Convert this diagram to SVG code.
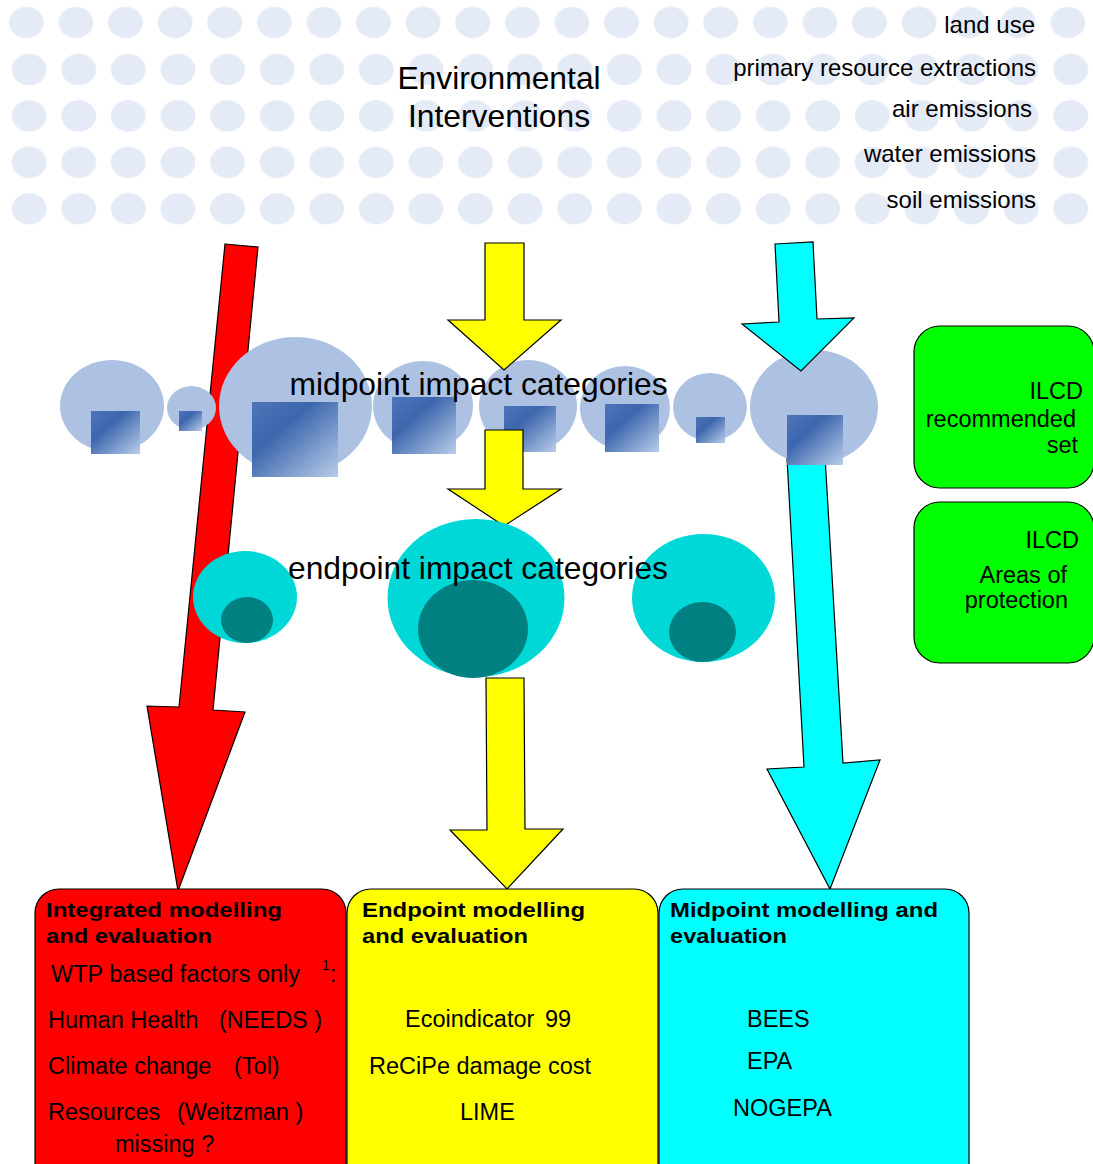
<svg xmlns="http://www.w3.org/2000/svg" width="1093" height="1164" viewBox="0 0 1093 1164">
<defs>
<linearGradient id="sq" x1="0" y1="0" x2="1" y2="1">
<stop offset="0" stop-color="#5075b9"/>
<stop offset="0.35" stop-color="#3c66ad"/>
<stop offset="1" stop-color="#bacdea"/>
</linearGradient>
<pattern id="dots1" x="8.8" y="6.5" width="49.6" height="400" patternUnits="userSpaceOnUse">
<ellipse cx="17.5" cy="16" rx="17.5" ry="15.7" fill="#e5ebf6"/>
</pattern>
<pattern id="dots2" x="11.6" y="53.5" width="49.6" height="46.4" patternUnits="userSpaceOnUse">
<ellipse cx="17.5" cy="16" rx="17.5" ry="15.7" fill="#e5ebf6"/>
</pattern>
</defs>
<style>
text{font-family:"Liberation Sans",Arial,Helvetica,sans-serif;fill:#000}
.big{font-size:31.8px;text-anchor:middle}
.lbl{font-size:24px;text-anchor:end}
.reg{font-size:23.5px}
.end{font-size:23.5px;text-anchor:end}
.ttl{font-size:21px;font-weight:bold}
.arr{stroke:#000;stroke-width:1.2;stroke-linejoin:miter}
.mid{fill:#adc2e2}
.sq{fill:url(#sq)}
.eo{fill:#00d8d8}
.ei{fill:#008080}
.box{stroke:#000;stroke-width:1.2}
</style>
<rect width="1093" height="1164" fill="#fff"/>
<g id="background">
<rect x="0" y="0" width="1093" height="40" fill="url(#dots1)"/>
<rect x="0" y="50" width="1093" height="180" fill="url(#dots2)"/>
</g>
<g id="interventions">
<text class="big" x="499" y="89">Environmental</text>
<text class="big" x="499" y="127">Interventions</text>
<text class="lbl" x="1035" y="33">land use</text>
<text class="lbl" x="1036" y="76">primary resource extractions</text>
<text class="lbl" x="1032" y="117">air emissions</text>
<text class="lbl" x="1036" y="162">water emissions</text>
<text class="lbl" x="1036" y="208">soil emissions</text>
</g>
<g id="connectors-back" class="connectors">
<polygon class="arr" fill="#ff0000" points="225,244 258,247 213,710 245,712 178,891 147,706 179,707"/>
<polygon class="arr" fill="#00ffff" points="786,440 824,439 843,763 880,760 830,889 767,769 804,767"/>
</g>
<g id="midpoint-categories">
<ellipse class="mid" cx="112" cy="406" rx="52" ry="46"/>
<rect class="sq" x="91" y="411" width="49" height="43"/>
<ellipse class="mid" cx="191.5" cy="408" rx="24.5" ry="22"/>
<rect class="sq" x="179" y="411" width="23" height="20"/>
<ellipse class="mid" cx="295.5" cy="406" rx="76.5" ry="69"/>
<rect class="sq" x="252" y="402" width="86" height="75"/>
<ellipse class="mid" cx="423" cy="406" rx="50" ry="45"/>
<rect class="sq" x="392" y="397" width="64" height="57"/>
<ellipse class="mid" cx="528" cy="406" rx="49" ry="46"/>
<rect class="sq" x="504" y="406" width="52" height="46"/>
<ellipse class="mid" cx="625" cy="408" rx="45" ry="42"/>
<rect class="sq" x="605" y="404" width="54" height="48"/>
<ellipse class="mid" cx="710" cy="407" rx="37" ry="34"/>
<rect class="sq" x="696" y="417" width="29" height="26"/>
<ellipse class="mid" cx="814" cy="407" rx="64" ry="57"/>
<rect class="sq" x="787" y="415" width="56" height="50"/>
</g>
<g id="connectors-front" class="connectors">
<polygon class="arr" fill="#ffff00" points="485,243 524,243 524,320 561,320 504,370 448,320 485,320"/>
<polygon class="arr" fill="#00ffff" points="775,244 813,242 817,319 854,318 801,371 742,324 779,322"/>
<polygon class="arr" fill="#ffff00" points="485,430 523,430 523,489 561,489 504,526 448,489 485,489"/>
</g>
<g id="endpoint-categories">
<ellipse class="eo" cx="245" cy="597" rx="52" ry="46"/>
<ellipse class="ei" cx="247" cy="620" rx="26" ry="23"/>
<ellipse class="eo" cx="476" cy="598" rx="88.5" ry="79"/>
<ellipse class="ei" cx="473" cy="629" rx="55" ry="49"/>
<ellipse class="eo" cx="703.5" cy="598" rx="71.5" ry="64"/>
<ellipse class="ei" cx="702.5" cy="632" rx="33.5" ry="30"/>
</g>
<g id="connectors-lower" class="connectors">
<polygon class="arr" fill="#ffff00" points="486,678 524,678 525,829 563,829 507,889 450,830 487,830"/>
</g>
<g id="category-labels">
<text class="big" x="478.5" y="395">midpoint impact categories</text>
<text class="big" x="478" y="579">endpoint impact categories</text>
</g>
<g id="ilcd-recommended">
<rect class="box" x="914" y="326" width="180" height="162" rx="26" fill="#00ff00"/>
<text class="end" x="1083" y="399">ILCD</text>
<text class="end" x="1076" y="427">recommended</text>
<text class="end" x="1078" y="453">set</text>
</g>
<g id="ilcd-areas">
<rect class="box" x="914" y="502" width="180" height="161" rx="26" fill="#00ff00"/>
<text class="end" x="1079" y="548">ILCD</text>
<text class="end" x="1067" y="583">Areas of</text>
<text class="end" x="1068" y="608">protection</text>
</g>
<g id="integrated-modelling">
<rect class="box" x="35" y="889" width="311" height="300" rx="24" fill="#ff0000"/>
<text class="ttl" x="46" y="917" textLength="236" lengthAdjust="spacingAndGlyphs">Integrated modelling</text>
<text class="ttl" x="46" y="943" textLength="166" lengthAdjust="spacingAndGlyphs">and evaluation</text>
<text class="reg" x="51" y="982">WTP based factors only</text>
<text x="322" y="970" style="font-size:14px">1</text>
<text class="reg" x="330" y="982">:</text>
<text class="reg" x="48" y="1028">Human Health</text>
<text class="reg" x="219" y="1028">(NEEDS )</text>
<text class="reg" x="48" y="1074">Climate change</text>
<text class="reg" x="234" y="1074">(Tol)</text>
<text class="reg" x="48" y="1120">Resources</text>
<text class="reg" x="177" y="1120">(Weitzman )</text>
<text class="reg" x="115" y="1152">missing ?</text>
</g>
<g id="endpoint-modelling">
<rect class="box" x="347" y="889" width="311" height="300" rx="24" fill="#ffff00"/>
<text class="ttl" x="362" y="917" textLength="223" lengthAdjust="spacingAndGlyphs">Endpoint modelling</text>
<text class="ttl" x="362" y="943" textLength="166" lengthAdjust="spacingAndGlyphs">and evaluation</text>
<text class="reg" x="405" y="1027">Ecoindicator</text>
<text class="reg" x="545" y="1027">99</text>
<text class="reg" x="369" y="1074">ReCiPe damage cost</text>
<text class="reg" x="460" y="1120">LIME</text>
</g>
<g id="midpoint-modelling">
<rect class="box" x="659" y="889" width="310" height="300" rx="24" fill="#00ffff"/>
<text class="ttl" x="670" y="917" textLength="268" lengthAdjust="spacingAndGlyphs">Midpoint modelling and</text>
<text class="ttl" x="670" y="943" textLength="117" lengthAdjust="spacingAndGlyphs">evaluation</text>
<text class="reg" x="747" y="1027">BEES</text>
<text class="reg" x="747" y="1069">EPA</text>
<text class="reg" x="733" y="1116">NOGEPA</text>
</g>
</svg>
